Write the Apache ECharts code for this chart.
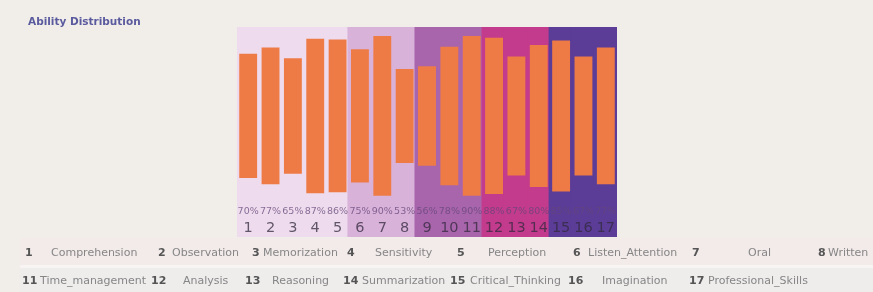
<!DOCTYPE html>
<html>
<head>
<meta charset="utf-8">
<script src="https://cdn.jsdelivr.net/npm/echarts@6/dist/echarts.min.js"></script>
<style>
  html, body { margin: 0; padding: 0; background: #f1eee9; }
  #chart { width: 873px; height: 292px; }
</style>
</head>
<body>
<div id="chart"></div>
<script>
// ability index on the axis, and score of each ability (%)
const categories = ['1', '2', '3', '4', '5', '6', '7', '8', '9', '10', '11', '12', '13', '14', '15', '16', '17']
const scores = [70, 77, 65, 87, 86, 75, 90, 53, 56, 78, 90, 88, 67, 80, 85, 67, 77]

// coloured column groups behind the bars: [first, last] category
const bandGroups = [[1, 5], [6, 8], [9, 11], [12, 14], [15, 17]]
const bandColors = ['#eedcee', '#d8b2d9', '#a965ac', '#c33b8d', '#5b3d98']

// legend table (the row is cut at the right edge, 9 and 10 are not visible)
const legendRow1 = [[1, 'Comprehension'], [2, 'Observation'], [3, 'Memorization'], [4, 'Sensitivity'],
  [5, 'Perception'], [6, 'Listen_Attention'], [7, 'Oral'], [8, 'Written']]
const legendRow2 = [[11, 'Time_management'], [12, 'Analysis'], [13, 'Reasoning'], [14, 'Summarization'],
  [15, 'Critical_Thinking'], [16, 'Imagination'], [17, 'Professional_Skills']]

// layout only: x of the number and of the name in each legend cell
const row1NumX = [25, 158, 252, 347, 457, 573, 692, 818]
const row1NameX = [51, 172, 263, 375, 488, 588, 748, 828]
const row2NumX = [22, 151, 245, 343, 450, 568, 689]
const row2NameX = [40, 183, 272, 362, 470, 602, 708]

const yMax = 118.3
const centre = 68.2

const bandColorOf = categories.map((c, i) => {
  const n = i + 1
  const g = bandGroups.findIndex(b => n >= b[0] && n <= b[1])
  return bandColors[g]
})

function legendTexts(row, numX, nameX, y) {
  const out = []
  row.forEach((item, i) => {
    out.push({
      type: 'text', x: numX[i], y: y,
      style: { text: String(item[0]), fill: '#555', font: '600 11px "DejaVu Sans"', textVerticalAlign: 'middle' }
    })
    out.push({
      type: 'text', x: nameX[i], y: y,
      style: { text: item[1], fill: '#868686', font: '11px "DejaVu Sans"', textVerticalAlign: 'middle' }
    })
  })
  return out
}

const chart = echarts.init(document.getElementById('chart'))
const option = {
  backgroundColor: '#f1eee9',
  animation: false,
  title: {
    text: 'Ability Distribution',
    left: 23,
    top: 12,
    textStyle: { color: '#5a5a9e', fontSize: 10.5, fontWeight: 'bold', fontFamily: 'DejaVu Sans' }
  },
  grid: { left: 237, right: 256, top: 27, bottom: 55 },
  xAxis: [
    {
      type: 'category',
      data: categories,
      axisLine: { show: false },
      axisTick: { show: false },
      splitLine: { show: false },
      axisLabel: {
        inside: true,
        interval: 0,
        margin: 1,
        formatter: (v, i) => '{p|' + scores[i] + '%}\n{n|' + v + '}',
        rich: {
          p: { fontSize: 9.5, lineHeight: 16, color: 'rgba(100,70,120,0.75)', fontFamily: 'DejaVu Sans' },
          n: { fontSize: 14.5, lineHeight: 16, color: 'rgba(50,40,60,0.75)', fontFamily: 'DejaVu Sans' }
        }
      },
      z: 10
    },
    {
      type: 'category',
      data: categories,
      show: false
    }
  ],
  yAxis: {
    type: 'value',
    min: 0,
    max: yMax,
    show: false,
    splitLine: { show: false }
  },
  series: [
    {
      type: 'bar',
      xAxisIndex: 1,
      barWidth: '112%',
      silent: true,
      z: 1,
      data: categories.map((c, i) => ({
        value: yMax,
        itemStyle: { color: bandColorOf[i] }
      }))
    },
    {
      type: 'bar',
      stack: 'score',
      barCategoryGap: '20%',
      z: 2,
      itemStyle: { color: 'transparent' },
      data: scores.map(v => centre - v / 2)
    },
    {
      type: 'bar',
      stack: 'score',
      z: 2,
      itemStyle: { color: '#ee7b46' },
      data: scores
    }
  ],
  graphic: [
    { type: 'rect', shape: { x: 20, y: 238, width: 853, height: 27 }, style: { fill: '#f3eaea' }, silent: true },
    { type: 'rect', shape: { x: 20, y: 265, width: 853, height: 3 }, style: { fill: '#f8f4f3' }, silent: true },
    { type: 'rect', shape: { x: 20, y: 268, width: 853, height: 24 }, style: { fill: '#efecec' }, silent: true },
    ...legendTexts(legendRow1, row1NumX, row1NameX, 253),
    ...legendTexts(legendRow2, row2NumX, row2NameX, 281)
  ]
}
chart.setOption(option)
window.addEventListener('resize', function() {
  chart.resize()
})
</script>
</body>
</html>
